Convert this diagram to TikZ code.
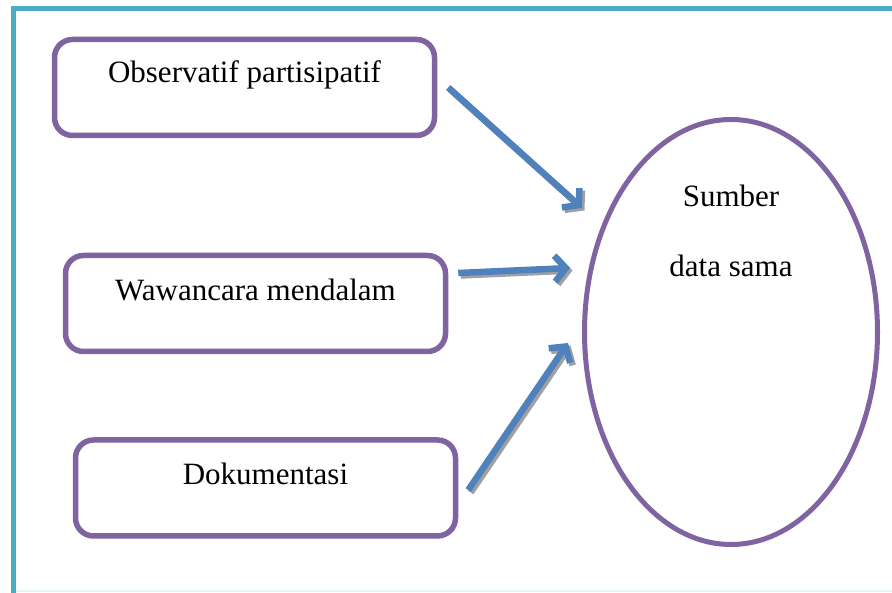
\documentclass[tikz,border=0pt]{standalone}
\usepackage{fontspec}
\setmainfont{Liberation Serif}
\usetikzlibrary{arrows.meta,shapes.geometric}

\definecolor{frameteal}{HTML}{4BACC6}
\definecolor{framepale}{HTML}{E6F3F8}
\definecolor{boxpurple}{HTML}{8064A2}
\definecolor{arrowblue}{HTML}{4F81BD}
\definecolor{shadowgray}{HTML}{A0A0A0}

\tikzset{
  methodbox/.style={draw=boxpurple, line width=5.5pt, rounded corners=18pt,
    minimum width=380pt, minimum height=96pt, inner sep=0pt},
  boxtext/.style={font=\fontsize{31pt}{37pt}\selectfont, inner sep=0pt},
  flow/.style={draw=arrowblue, line width=6.5pt,
    -{Straight Barb[length=11pt,width=26pt]}},
  flowshadow/.style={flow, draw=shadowgray}
}

\begin{document}
\begin{tikzpicture}[x=1pt,y=1pt]
  \useasboundingbox (0,0) rectangle (892,593);

  % Draw the frame
  \draw[framepale, line width=2pt] (13,2) -- (892,2);
  \draw[frameteal, line width=5pt] (13,0) -- (13,584) -- (892,584);

  % Draw the three method boxes
  \node[methodbox, label={[boxtext, yshift=13pt]center:Observatif partisipatif}] (obs) at (244.5,505.5) {};
  \node[methodbox, label={[boxtext, yshift=13.5pt]center:Wawancara mendalam}] (wawan) at (255.5,289.5) {};
  \node[methodbox, label={[boxtext, yshift=14pt]center:Dokumentasi}] (doku) at (265.5,105) {};

  % Draw the source ellipse
  \node[ellipse, draw=boxpurple, line width=5pt, minimum width=293pt, minimum height=425pt,
    label={[boxtext, font=\fontsize{31pt}{70pt}\selectfont, align=center, yshift=101pt]center:Sumber\\data sama}]
    (src) at (731,261) {};

  % Arrow tips near the ellipse
  \coordinate (tipObs) at ([yshift=124pt]src.west);
  \coordinate (tipWawan) at ([shift={(-12pt,64pt)}]src.west);
  \coordinate (tipDoku) at ([shift={(-14pt,-11pt)}]src.west);

  % Draw shadows of the arrows
  \draw[flowshadow, transform canvas={shift={(2.5pt,-2.5pt)}}] ([xshift=11pt]obs.east) -- (tipObs);
  \draw[flowshadow, transform canvas={shift={(2.5pt,-2.5pt)}}] ([shift={(10pt,30.5pt)}]wawan.east) -- (tipWawan);
  \draw[flowshadow, transform canvas={shift={(2.5pt,-2.5pt)}}] ([shift={(10pt,-2pt)}]doku.east) -- (tipDoku);

  % Draw the arrows
  \draw[flow] ([xshift=11pt]obs.east) -- (tipObs);
  \draw[flow] ([shift={(10pt,30.5pt)}]wawan.east) -- (tipWawan);
  \draw[flow] ([shift={(10pt,-2pt)}]doku.east) -- (tipDoku);

\end{tikzpicture}
\end{document}
